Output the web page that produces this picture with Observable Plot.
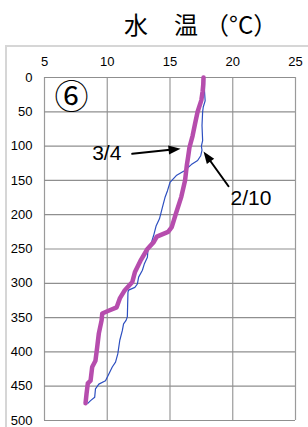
<!DOCTYPE html>
<html><head><meta charset="utf-8">
<script src="https://cdn.jsdelivr.net/npm/d3@7"></script>
<script src="https://cdn.jsdelivr.net/npm/@observablehq/plot@0.6"></script>
<style>
body{margin:0;background:#fff;}
#wrap{position:relative;width:308px;height:427px;overflow:hidden;background:#fff;}
#chart{position:absolute;left:0;top:0;}
#frame{position:absolute;left:5px;top:45px;width:400px;height:500px;border-left:2px solid #d6d6d6;border-top:2px solid #d6d6d6;pointer-events:none;}
#title{position:absolute;left:124px;top:12px;font-family:"Noto Sans CJK JP";font-size:24px;line-height:1;color:#000;white-space:nowrap;}
#title span{display:inline-block;}
</style></head>
<body>
<div id="wrap"><div id="chart"></div><div id="frame"></div><div id="title"><span>水</span><span style="margin-left:26px">温</span><span style="margin-left:7px">（°C）</span></div></div>
<script>
// 3/4 profile (thick purple)
const depth34 = [0, 10, 20, 33, 50, 67, 85, 102, 115, 128, 150, 174, 199, 218, 225, 232, 240, 250, 267, 284, 298, 310, 322, 335, 340, 344, 354, 373, 393, 413, 422, 442, 446, 461, 475];
const temp34  = [17.67, 17.65, 17.6, 17.5, 17.2, 17.0, 16.8, 16.55, 16.45, 16.34, 16.2, 15.9, 15.46, 15.14, 14.85, 13.95, 13.7, 13.2, 12.65, 12.2, 12.0, 11.4, 11.0, 10.75, 10.1, 9.6, 9.55, 9.33, 9.2, 9.06, 8.8, 8.67, 8.45, 8.35, 8.27];
// 2/10 profile (thin blue)
const depth210 = [0, 20, 34, 43, 50, 70, 92, 100, 106, 114, 121, 127, 136, 143, 153, 165, 175, 189, 206, 216, 230, 242, 250, 262, 272, 281, 291, 301, 306, 310, 313, 335, 349, 354, 359, 369, 383, 403, 415, 422, 437, 442, 447, 454, 466, 471, 475];
const temp210  = [17.75, 17.75, 17.8, 17.65, 17.6, 17.55, 17.6, 17.5, 17.55, 17.45, 17.2, 16.7, 16.15, 15.5, 15.0, 14.8, 14.6, 14.4, 14.16, 13.9, 13.7, 13.5, 13.25, 13.2, 12.95, 12.8, 12.5, 12.4, 12.2, 11.7, 11.65, 11.62, 11.6, 11.5, 11.3, 11.2, 11.0, 10.84, 10.66, 10.4, 10.0, 9.86, 9.33, 9.06, 9.0, 8.67, 8.45];
const xTicks = [5, 10, 15, 20, 25];
const yTicks = [0, 50, 100, 150, 200, 250, 300, 350, 400, 450, 500];
const seriesLabels = ["3/4", "2/10"];
const labelTemp = [8.8, 19.82];
const labelDepth = [111, 176];
const arrowFromTemp = [11.99, 19.66];
const arrowFromDepth = [111.2, 158.5];
const arrowToTemp = [15.84, 17.67];
const arrowToDepth = [103.9, 107.9];
const panelLabel = ["⑥"];
const panelTemp = [7.15];
const panelDepth = [30.6];

const s34 = depth34.map((d, i) => ({depth: d, temp: temp34[i]}));
const s210 = depth210.map((d, i) => ({depth: d, temp: temp210[i]}));
const notes = seriesLabels.map((l, i) => ({label: l, temp: labelTemp[i], depth: labelDepth[i]}));
const arrows = seriesLabels.map((l, i) => ({t1: arrowFromTemp[i], d1: arrowFromDepth[i], t2: arrowToTemp[i], d2: arrowToDepth[i]}));
const panel = panelLabel.map((l, i) => ({label: l, temp: panelTemp[i], depth: panelDepth[i]}));

const base = {
  width: 308, height: 427,
  marginTop: 77, marginLeft: 44, marginRight: 13, marginBottom: 7,
  style: {fontFamily: "Liberation Sans", fontSize: "13px", color: "#000", background: "transparent"},
  x: {domain: [5, 25]},
  y: {domain: [0, 500], reverse: true}
};
const p0 = Plot.plot({...base, marks: [Plot.frame({stroke: "none"})]});
const sx = p0.scale("x"), sy = p0.scale("y");
arrows.forEach(a => {
  const dx = sx.apply(a.t2) - sx.apply(a.t1);
  const dy = sy.apply(a.d2) - sy.apply(a.d1);
  a.angle = Math.atan2(dx, -dy) * 180 / Math.PI;
});

const chart = Plot.plot({
  ...base,
  marks: [
    Plot.gridX(xTicks, {stroke: "#9a9a9a", strokeOpacity: 1, strokeWidth: 1.2}),
    Plot.gridY(yTicks, {stroke: "#8f8f8f", strokeOpacity: 1, strokeWidth: 1.2}),
    Plot.axisX(xTicks, {anchor: "top", tickSize: 0, tickPadding: 12, label: null, fontSize: 13}),
    Plot.axisY(yTicks, {anchor: "left", tickSize: 0, tickPadding: 12, label: null, fontSize: 13}),
    Plot.line(s210, {x: "temp", y: "depth", stroke: "#2d4fc0", strokeWidth: 1.2}),
    Plot.line(s34, {x: "temp", y: "depth", stroke: "#b64dad", strokeWidth: 4.5, strokeLinejoin: "round", strokeLinecap: "round"}),
    Plot.arrow(arrows, {x1: "t1", y1: "d1", x2: "t2", y2: "d2", stroke: "#000", strokeWidth: 2, headLength: 0, insetEnd: 8}),
    Plot.vector(arrows, {x: "t2", y: "d2", rotate: "angle", length: 12, r: 4.5, shape: "spike", anchor: "end", fill: "#000", stroke: "none"}),
    Plot.text(notes, {x: "temp", y: "depth", text: "label", textAnchor: "start", fontSize: 21, fontFamily: "Liberation Sans", fill: "#000"}),
    Plot.text(panel, {x: "temp", y: "depth", text: "label", fontSize: 34, fontFamily: "Noto Sans CJK JP", fill: "#000"})
  ]
});
document.getElementById("chart").appendChild(chart);
</script>
</body></html>
